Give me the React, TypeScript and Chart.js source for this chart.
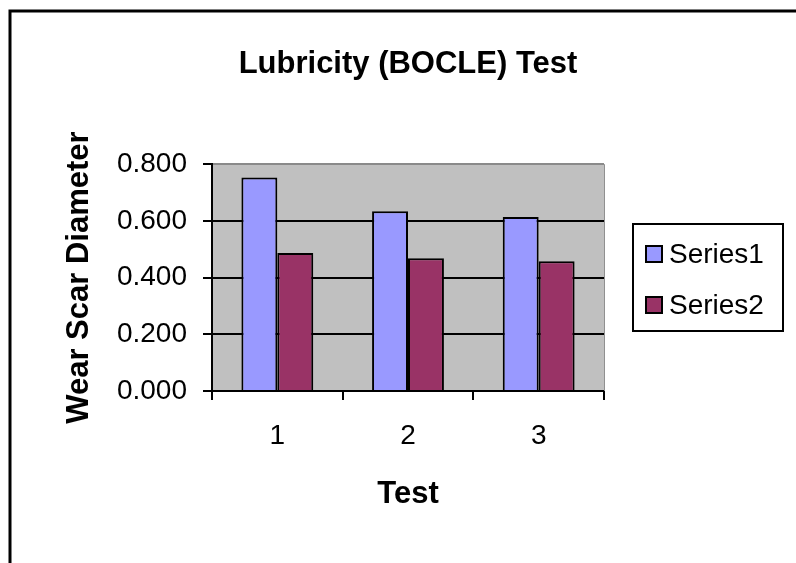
import React, { useEffect, useRef } from "react";
import { Chart, registerables } from "chart.js";

Chart.register(...registerables);

const categories = ["1", "2", "3"];
const seriesNames = ["Series1", "Series2"];
const series1 = [0.753, 0.634, 0.614];
const series2 = [0.487, 0.468, 0.458];
const seriesColors = ["#9999FF", "#993366"];
const yTickValues = [0, 0.2, 0.4, 0.6, 0.8];

const FONT = "'Liberation Sans', Arial, sans-serif";

const bgPlugin = {
  id: "plotBg",
  beforeDraw(chart: any) {
    const { ctx, chartArea } = chart;
    ctx.save();
    ctx.fillStyle = "#C0C0C0";
    ctx.fillRect(chartArea.left, chartArea.top, chartArea.right - chartArea.left, chartArea.bottom - chartArea.top);
    ctx.restore();
  },
  afterDraw(chart: any) {
    const { ctx, chartArea } = chart;
    ctx.save();
    // outer frame
    ctx.strokeStyle = "#000";
    ctx.lineWidth = 3;
    ctx.beginPath();
    ctx.moveTo(10, chart.height + 5);
    ctx.lineTo(10, 11);
    ctx.lineTo(chart.width + 5, 11);
    ctx.stroke();
    // plot right edge
    ctx.strokeStyle = "#909090";
    ctx.lineWidth = 1;
    ctx.beginPath();
    ctx.moveTo(chartArea.right + 0.5, chartArea.top);
    ctx.lineTo(chartArea.right + 0.5, chartArea.bottom);
    ctx.stroke();
    // legend
    const lx = chartArea.right + 29;
    const ly = 224;
    const lw = 150;
    const lh = 107;
    ctx.strokeStyle = "#000";
    ctx.lineWidth = 2;
    ctx.strokeRect(lx, ly, lw, lh);
    ctx.font = `28px ${FONT}`;
    ctx.textBaseline = "middle";
    ctx.textAlign = "left";
    chart.data.datasets.forEach((ds: any, i: number) => {
      const cy = ly + 30 + i * 51;
      ctx.fillStyle = ds.backgroundColor;
      ctx.fillRect(lx + 13, cy - 8, 16, 16);
      ctx.strokeStyle = "#000";
      ctx.lineWidth = 2;
      ctx.strokeRect(lx + 13, cy - 8, 16, 16);
      ctx.fillStyle = "#000";
      ctx.fillText(ds.label, lx + 36, cy + 1);
    });
    ctx.restore();
  },
};

export default function App() {
  const ref = useRef<HTMLCanvasElement | null>(null);
  useEffect(() => {
    if (!ref.current) return;
    const chart = new Chart(ref.current, {
      type: "bar",
      data: {
        labels: categories,
        datasets: [
          {
            label: seriesNames[0],
            data: series1,
            backgroundColor: seriesColors[0],
            borderColor: "#000",
            borderWidth: 2,
          },
          {
            label: seriesNames[1],
            data: series2,
            backgroundColor: seriesColors[1],
            borderColor: "#000",
            borderWidth: 2,
          },
        ],
      },
      options: {
        responsive: false,
        animation: false,
        devicePixelRatio: 1,
        layout: { padding: { left: 0, top: 0, right: 192, bottom: 0 }, autoPadding: false },
        datasets: { bar: { barPercentage: 1, categoryPercentage: 0.55 } },
        plugins: {
          legend: { display: false },
          tooltip: { enabled: false },
          title: {
            display: true,
            text: "Lubricity (BOCLE) Test",
            color: "#000",
            fullSize: false,
            font: { family: FONT, size: 31, weight: "bold" },
            padding: { top: 46, bottom: 81 },
          },
        },
        scales: {
          x: {
            afterFit(scale: any) {
              scale.height = 172;
            },
            grid: {
              display: true,
              drawOnChartArea: false,
              drawTicks: true,
              tickLength: 9,
              color: "#000",
              lineWidth: 2,
              offset: true,
            },
            border: { display: true, color: "#000", width: 2 },
            ticks: {
              color: "#000",
              padding: 19,
              font: { family: FONT, size: 28 },
            },
            title: {
              display: true,
              text: "Test",
              color: "#000",
              font: { family: FONT, size: 31, weight: "bold" },
              padding: { top: 0, bottom: 50 },
            },
          },
          y: {
            min: 0,
            max: 0.8,
            afterFit(scale: any) {
              scale.width = 212;
            },
            afterBuildTicks(scale: any) {
              scale.ticks = yTickValues.map((v) => ({ value: v }));
            },
            grid: {
              color: (c: any) => (c.tick && c.tick.value === 0.8 ? "#8a8a8a" : "#000"),
              tickColor: "#000",
              lineWidth: 2,
              tickLength: 9,
            },
            border: { display: true, color: "#000", width: 2 },
            ticks: {
              color: "#000",
              padding: 16,
              font: { family: FONT, size: 28 },
              callback: (v: any) => Number(v).toFixed(3),
            },
            title: {
              display: true,
              text: "Wear Scar Diameter",
              color: "#000",
              font: { family: FONT, size: 31, weight: "bold" },
              padding: { top: 61, bottom: 0 },
            },
          },
        },
      },
      plugins: [bgPlugin],
    });
    return () => chart.destroy();
  }, []);
  return (
    <div style={{ position: "fixed", left: 0, top: 0, width: 796, height: 563, background: "#fff" }}>
      <canvas ref={ref} width={796} height={563} style={{ display: "block" }} />
    </div>
  );
}
